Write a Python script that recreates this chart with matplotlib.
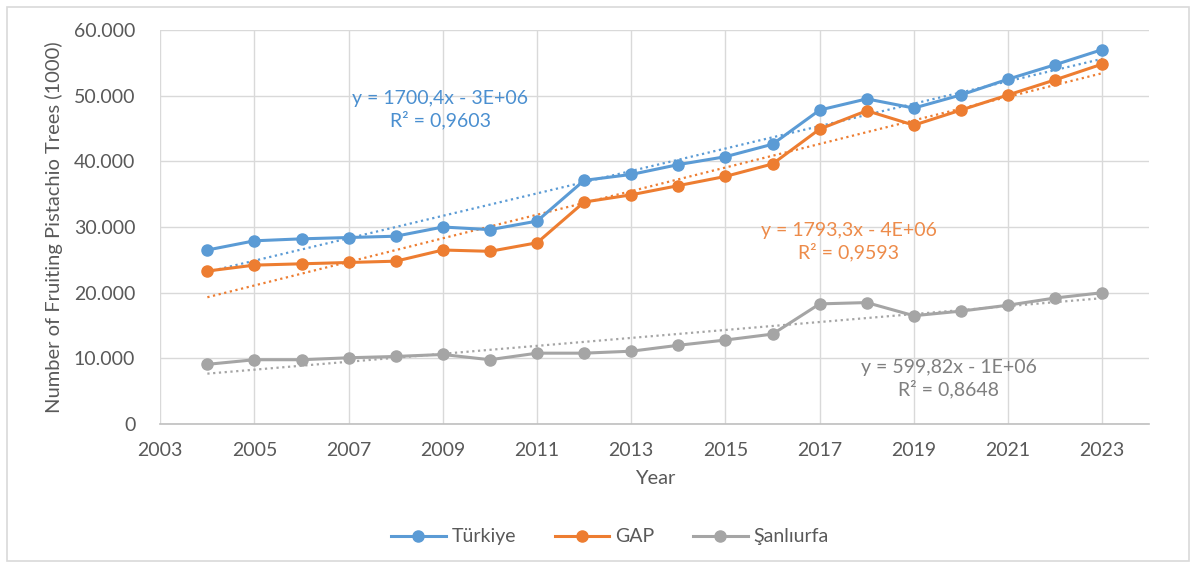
import numpy as np
import matplotlib.pyplot as plt
from matplotlib.patches import Rectangle
from matplotlib.ticker import FuncFormatter

years = list(range(2004, 2024))
turkiye = [26.5, 27.9, 28.2, 28.4, 28.6, 30.0, 29.6, 30.9, 37.1, 38.0,
           39.5, 40.7, 42.6, 47.8, 49.5, 48.1, 50.1, 52.5, 54.7, 57.0]
gap = [23.3, 24.2, 24.4, 24.6, 24.8, 26.5, 26.3, 27.6, 33.8, 34.9,
       36.3, 37.7, 39.6, 44.9, 47.7, 45.5, 47.8, 50.1, 52.4, 54.8]
sanliurfa = [9.1, 9.8, 9.8, 10.1, 10.3, 10.6, 9.8, 10.8, 10.8, 11.1,
             12.0, 12.8, 13.7, 18.3, 18.5, 16.5, 17.2, 18.1, 19.2, 20.0]
series_names = ['Türkiye', 'GAP', 'Şanlıurfa']
colors = ['#5B9BD5', '#ED7D31', '#A5A5A5']
trend_labels = ['y = 1700,4x - 3E+06\nR² = 0,9603',
                'y = 1793,3x - 4E+06\nR² = 0,9593',
                'y = 599,82x - 1E+06\nR² = 0,8648']
label_colors = ['#4A8FD0', '#ED8B4A', '#7F7F7F']
label_pos = [(0.283, 0.798), (0.696, 0.463), (0.797, 0.115)]

plt.rcParams['font.family'] = ['Lato', 'DejaVu Sans']

fig = plt.figure(figsize=(11.96, 5.64), dpi=100)
ax = fig.add_axes([0.134, 0.248, 0.827, 0.699])

x = np.array(years)
for vals, name, c in zip([turkiye, gap, sanliurfa], series_names, colors):
    y = np.array(vals) * 1000
    ax.plot(x, y, color=c, lw=2.2, marker='o', ms=8, label=name, zorder=3)
    k, b = np.polyfit(x, y, 1)
    ax.plot(x, k * x + b, color=c, lw=1.6, ls=(0, (1, 1.6)), zorder=2)

for txt, c, (px, py) in zip(trend_labels, label_colors, label_pos):
    ax.text(px, py, txt, transform=ax.transAxes, color=c, fontsize=14,
            ha='center', va='center', linespacing=1.2)

ax.set_xlim(2003, 2024)
ax.set_ylim(0, 60000)
ax.set_xticks(range(2003, 2024, 2))
ax.set_yticks(range(0, 60001, 10000))
ax.yaxis.set_major_formatter(FuncFormatter(lambda v, p: f'{int(v):,}'.replace(',', '.')))
ax.grid(True, color='#D9D9D9', lw=1)
ax.set_axisbelow(True)
for s in ['top', 'right', 'left']:
    ax.spines[s].set_visible(False)
ax.spines['bottom'].set_color('#BFBFBF')
ax.spines['bottom'].set_linewidth(1.2)
ax.tick_params(length=0, labelsize=14, colors='#595959')
ax.tick_params(axis='y', pad=18)
ax.tick_params(axis='x', pad=13)
ax.set_xlabel('Year', fontsize=14.5, color='#595959', labelpad=8)
ax.set_ylabel('Number of Fruiting Pistachio Trees (1000)', fontsize=14.5,
              color='#595959', labelpad=8)

fig.legend(loc='center', bbox_to_anchor=(0.51, 0.048), ncol=3, frameon=False,
           fontsize=14, labelcolor='#595959', handlelength=2.8, columnspacing=2.0,
           handletextpad=0.3)

fig.patches.append(Rectangle((0.006, 0.006), 0.988, 0.982, transform=fig.transFigure,
                             fill=False, edgecolor='#D9D9D9', lw=1.2))

fig.savefig('out.png', dpi=100)
